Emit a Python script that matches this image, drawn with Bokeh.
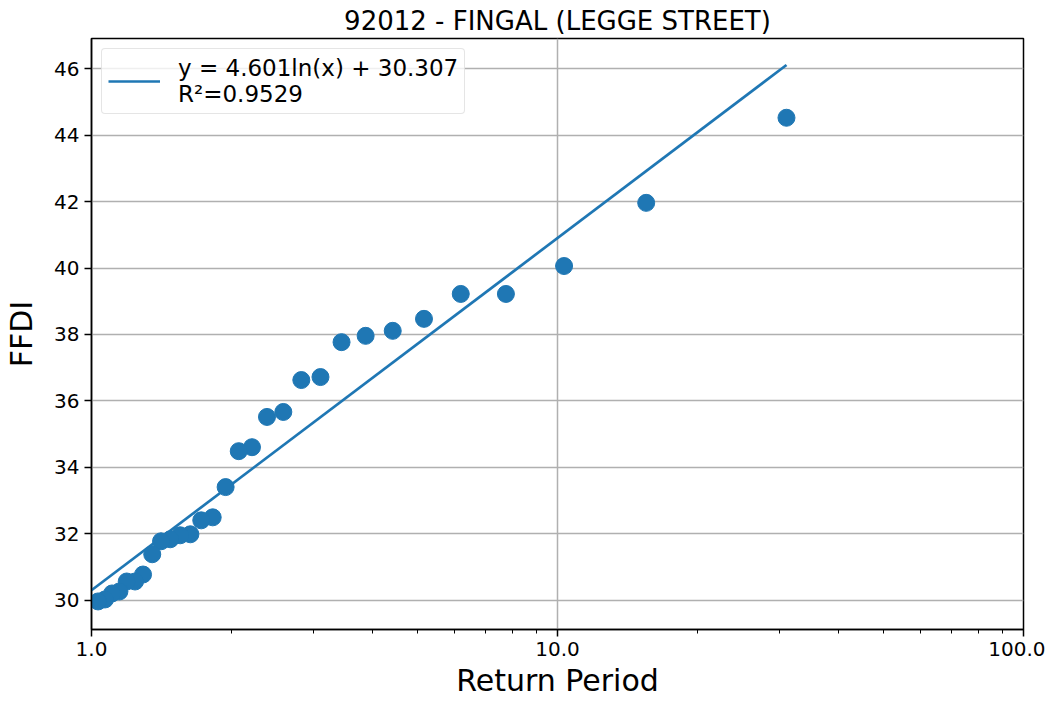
from bokeh.plotting import figure
from bokeh.models import FixedTicker, PrintfTickFormatter, Legend, LegendItem, Range1d
from bokeh.embed import file_html
from bokeh.resources import INLINE
import numpy as np

title = "92012 - FINGAL (LEGGE STREET)"
return_period = [31.0, 15.5, 10.33, 7.75, 6.2, 5.17, 4.43, 3.875, 3.44, 3.1,
                 2.82, 2.58, 2.38, 2.21, 2.07, 1.94, 1.82, 1.72, 1.63, 1.55,
                 1.476, 1.41, 1.35, 1.29, 1.24, 1.19, 1.148, 1.107, 1.069, 1.033]
ffdi = [44.52, 41.96, 40.06, 39.22, 39.22, 38.47, 38.11, 37.96, 37.77, 36.72,
        36.63, 35.67, 35.52, 34.61, 34.49, 33.41, 32.50, 32.41, 31.99, 31.96,
        31.84, 31.78, 31.39, 30.78, 30.57, 30.57, 30.27, 30.21, 30.03, 29.97]
fit_a = 4.601
fit_b = 30.307
fit_x = [1.0, 31.0]
fit_label = "y = 4.601ln(x) + 30.307\nR\u00b2=0.9529"
x_major = [1, 10, 100]
x_minor = [2, 3, 4, 5, 6, 7, 8, 9, 20, 30, 40, 50, 60, 70, 80, 90]
y_ticks = [30, 32, 34, 36, 38, 40, 42, 44, 46]

FONT = "DejaVu Sans"
BLUE = "#1f77b4"

p = figure(width=1045, height=700, x_axis_type="log", output_backend="svg",
           toolbar_location=None, x_range=Range1d(1, 100), y_range=Range1d(29.126, 46.904),
           min_border_left=91, min_border_right=22, min_border_top=30, min_border_bottom=40)
p.title.text = title
p.title.align = "center"
p.title.text_font = FONT
p.title.text_font_size = "26px"
p.title.text_font_style = "normal"
p.title.text_color = "#000000"
p.title.standoff = 6

p.outline_line_color = "black"
p.outline_line_width = 1.5
p.outline_line_alpha = 1

fy = [fit_a * np.log(x) + fit_b for x in fit_x]
line = p.line(fit_x, fy, line_color=BLUE, line_width=2.7)
p.scatter(return_period, ffdi, size=17, color=BLUE, line_color=BLUE)

xa = p.xaxis[0]
xa.ticker = FixedTicker(ticks=x_major, minor_ticks=x_minor)
xa.formatter = PrintfTickFormatter(format="%.1f")
xa.axis_label = "Return Period"
ya = p.yaxis[0]
ya.ticker = FixedTicker(ticks=y_ticks)
ya.axis_label = "FFDI"
for ax in (xa, ya):
    ax.axis_label_text_font = FONT
    ax.axis_label_text_font_size = "30px"
    ax.axis_label_text_font_style = "normal"
    ax.axis_label_text_color = "black"
    ax.major_label_text_font = FONT
    ax.major_label_text_font_size = "20px"
    ax.major_label_text_color = "black"
    ax.axis_line_color = "black"
    ax.axis_line_width = 1.5
    ax.major_tick_line_color = "black"
    ax.major_tick_line_width = 1.5
    ax.major_tick_out = 7
    ax.major_tick_in = 0
    ax.minor_tick_line_color = "black"
    ax.minor_tick_out = 4
    ax.minor_tick_in = 0
    ax.major_label_standoff = 5
ya.minor_tick_line_color = None
xa.axis_label_standoff = 4
ya.axis_label_standoff = 12

p.xgrid.ticker = FixedTicker(ticks=x_major)
p.ygrid.ticker = FixedTicker(ticks=y_ticks)
for g in (p.xgrid[0], p.ygrid[0]):
    g.grid_line_color = "#b0b0b0"
    g.grid_line_width = 1.5

legend = Legend(items=[LegendItem(label=fit_label, renderers=[line])], location="top_left")
legend.label_text_font = FONT
legend.label_text_font_size = "23px"
legend.label_text_color = "black"
legend.label_text_line_height = 0.88
legend.glyph_width = 52
legend.label_standoff = 18
legend.border_line_color = "#cccccc"
legend.border_line_width = 1.5
legend.border_radius = 4
legend.background_fill_alpha = 0.8
legend.margin = 10
legend.padding = 6
p.add_layout(legend)

open("out.html", "w").write(file_html(p, INLINE))
